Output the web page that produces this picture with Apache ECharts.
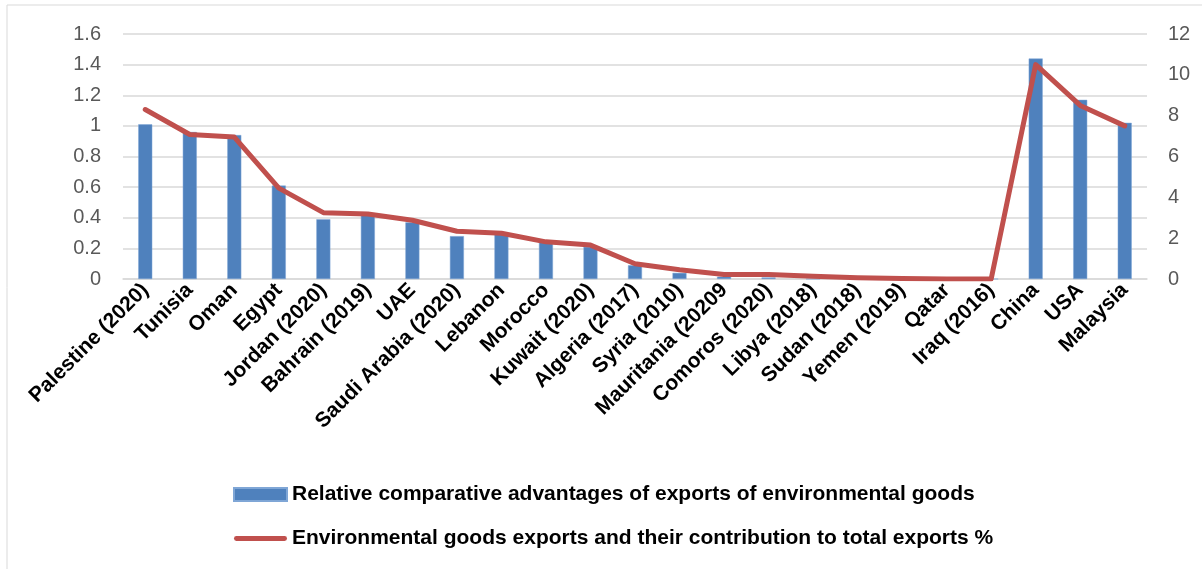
<!DOCTYPE html>
<html>
<head>
<meta charset="utf-8">
<script src="https://cdn.jsdelivr.net/npm/echarts@6/dist/echarts.min.js"></script>
<style>
html,body{margin:0;padding:0;background:#fff;}
#chart{width:1202px;height:569px;}
</style>
</head>
<body>
<div id="chart"></div>
<script>
const categories = ["Palestine (2020)","Tunisia","Oman","Egypt","Jordan (2020)","Bahrain (2019)","UAE","Saudi Arabia (2020)","Lebanon","Morocco","Kuwait (2020)","Algeria (2017)","Syria (2010)","Mauritania (20209","Comoros (2020)","Libya (2018)","Sudan (2018)","Yemen (2019)","Qatar","Iraq (2016)","China","USA","Malaysia"];
const rcaValues = [1.01,0.96,0.94,0.61,0.39,0.42,0.37,0.28,0.30,0.25,0.21,0.09,0.04,0.015,0.01,0,0,0,0,0,1.44,1.17,1.02];
const shareValues = [8.3,7.08,6.95,4.45,3.25,3.18,2.88,2.34,2.24,1.82,1.66,0.75,0.45,0.22,0.22,0.13,0.06,0.02,0,0,10.5,8.5,7.5];
const leftTicks = {min:0,max:1.6,interval:0.2};
const rightTicks = {min:0,max:12,interval:2};
const seriesNames = ["Relative comparative advantages of exports of environmental goods","Environmental goods exports and their contribution to total exports %"];

const chart = echarts.init(document.getElementById('chart'), null, {renderer:'canvas'});
chart.setOption({
  animation:false,
  backgroundColor:'#fff',
  graphic:[{type:'rect',shape:{x:7,y:5,width:1200,height:570},style:{fill:'none',stroke:'#D9D9D9',lineWidth:1},silent:true}],
  grid:{left:123,right:55,top:34,bottom:290,containLabel:false},
  legend:{
    orient:'vertical',left:228,top:479,itemWidth:53,itemHeight:13,itemGap:23,
    textStyle:{fontFamily:'Liberation Sans',fontWeight:'bold',fontSize:21,color:'#000',lineHeight:21},
    data:[
      {name:seriesNames[0],icon:'rect'},
      {name:seriesNames[1],icon:'path://M2.5,0H52.5A2.5,2.5,0,0,1,52.5,5H2.5A2.5,2.5,0,0,1,2.5,0Z'}
    ]
  },
  xAxis:{
    type:'category',data:categories,
    axisLine:{lineStyle:{color:'#D9D9D9',width:1.5}},
    axisTick:{show:false},
    axisLabel:{interval:0,rotate:45,margin:8,fontFamily:'Liberation Sans',fontWeight:'bold',fontSize:21,color:'#000'}
  },
  yAxis:[
    {type:'value',min:leftTicks.min,max:leftTicks.max,interval:leftTicks.interval,
     axisLine:{show:false},axisTick:{show:false},
     axisLabel:{margin:22,fontFamily:'Liberation Sans',fontSize:20,color:'#595959'},
     splitLine:{lineStyle:{color:'#D9D9D9',width:1.5}}},
    {type:'value',min:rightTicks.min,max:rightTicks.max,interval:rightTicks.interval,position:'right',
     axisLine:{show:false},axisTick:{show:false},
     axisLabel:{margin:21,fontFamily:'Liberation Sans',fontSize:20,color:'#595959'},
     splitLine:{show:false}}
  ],
  series:[
    {name:seriesNames[0],type:'bar',data:rcaValues,yAxisIndex:0,barWidth:14,
     itemStyle:{color:'#4F81BD',borderColor:'#7FA6D6',borderWidth:0.5}},
    {name:seriesNames[1],type:'line',data:shareValues,yAxisIndex:1,symbol:'none',
     lineStyle:{color:'#C0504D',width:5,cap:'round',join:'round'},itemStyle:{color:'#C0504D'}}
  ]
});
</script>
</body>
</html>
